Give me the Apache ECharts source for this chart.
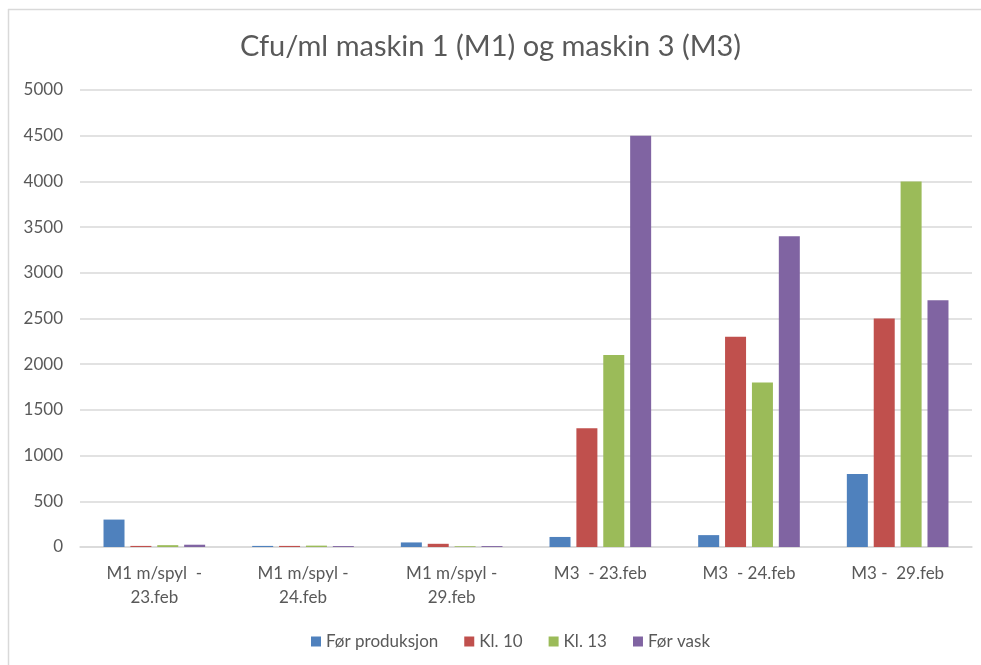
<!DOCTYPE html>
<html>
<head>
<meta charset="utf-8">
<script src="https://cdn.jsdelivr.net/npm/echarts@6/dist/echarts.min.js"></script>
<style>
html, body { margin: 0; padding: 0; background: #fff; }
#chart { width: 981px; height: 665px; }
</style>
</head>
<body>
<div id="chart"></div>
<script>
var categories = ['M1 m/spyl  -\n23.feb', 'M1 m/spyl -\n24.feb', 'M1 m/spyl -\n29.feb', 'M3  - 23.feb', 'M3  - 24.feb', 'M3 -  29.feb'];
var forProduksjon = [300, 12, 50, 110, 130, 800];
var kl10 = [12, 12, 35, 1300, 2300, 2500];
var kl13 = [20, 15, 8, 2100, 1800, 4000];
var forVask = [25, 10, 10, 4500, 3400, 2700];

var textColor = '#595959';
var font = 'Lato';

function makeSeries(name, data, color) {
    return {
        name: name,
        type: 'bar',
        data: data,
        barWidth: 21,
        barGap: '28%',
        itemStyle: { color: color }
    };
}

var myChart = echarts.init(document.getElementById('chart'));
var option = {
    backgroundColor: '#fff',
    animation: false,
    textStyle: { fontFamily: font },
    title: {
        text: 'Cfu/ml maskin 1 (M1) og maskin 3 (M3)',
        left: 'center',
        top: 27,
        textStyle: { fontSize: 29, fontWeight: 'normal', color: textColor, fontFamily: font }
    },
    graphic: [
        { type: 'line', shape: { x1: 8, y1: 9.5, x2: 981, y2: 9.5 }, style: { stroke: '#d9d9d9', lineWidth: 1.5 } },
        { type: 'line', shape: { x1: 8.5, y1: 9, x2: 8.5, y2: 665 }, style: { stroke: '#d9d9d9', lineWidth: 1.5 } }
    ],
    legend: {
        bottom: 10,
        left: 306,
        itemWidth: 10,
        itemHeight: 10,
        itemGap: 26,
        icon: 'rect',
        textStyle: { fontSize: 17, color: textColor, fontFamily: font },
        data: ['Før produksjon', 'Kl. 10', 'Kl. 13', 'Før vask']
    },
    grid: {
        left: 80,
        right: 9,
        top: 90,
        bottom: 118
    },
    xAxis: {
        type: 'category',
        data: categories,
        axisTick: { show: false },
        axisLine: { lineStyle: { color: '#d9d9d9', width: 1.5 } },
        axisLabel: { interval: 0, fontSize: 17, color: textColor, lineHeight: 24, margin: 15, fontFamily: font }
    },
    yAxis: {
        type: 'value',
        min: 0,
        max: 5000,
        interval: 500,
        axisLine: { show: false },
        axisTick: { show: false },
        splitLine: { lineStyle: { color: '#d9d9d9', width: 1.5 } },
        axisLabel: {
            fontSize: 17, color: textColor, margin: 17, fontFamily: font,
            formatter: function (v) { return String(v); }
        }
    },
    series: [
        makeSeries('Før produksjon', forProduksjon, '#4f81bd'),
        makeSeries('Kl. 10', kl10, '#c0504d'),
        makeSeries('Kl. 13', kl13, '#9bbb59'),
        makeSeries('Før vask', forVask, '#8064a2')
    ]
};
myChart.setOption(option, true);
</script>
</body>
</html>
